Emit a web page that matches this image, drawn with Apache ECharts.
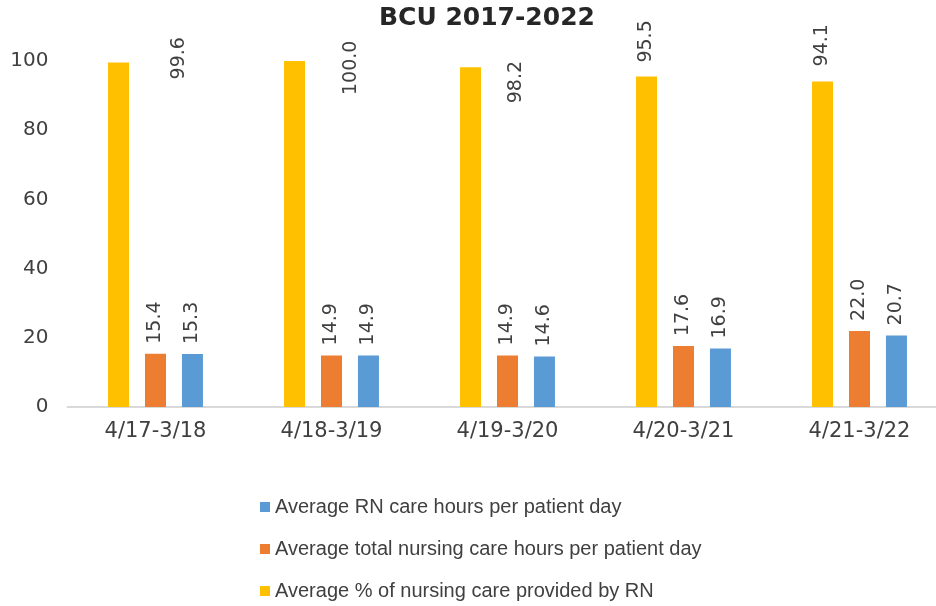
<!DOCTYPE html>
<html>
<head>
<meta charset="utf-8">
<script src="https://cdn.jsdelivr.net/npm/echarts@6/dist/echarts.min.js"></script>
<style>
  html, body { margin: 0; padding: 0; background: #fff; overflow: hidden; }
  /* plot area runs past the right edge in the original, so the canvas is a bit wider */
  #chart { width: 950px; height: 606px; }
</style>
</head>
<body>
<div id="chart"></div>
<script>
var categories = ['4/17-3/18', '4/18-3/19', '4/19-3/20', '4/20-3/21', '4/21-3/22'];
var pctByRN = [99.6, 100.0, 98.2, 95.5, 94.1];
var totalHours = [15.4, 14.9, 14.9, 17.6, 22.0];
var rnHours = [15.3, 14.9, 14.6, 16.9, 20.7];
var seriesNames = [
    'Average % of nursing care provided by RN',
    'Average total nursing care hours per patient day',
    'Average RN care hours per patient day'
];

var myChart = echarts.init(document.getElementById('chart'));

var labelStyle = {
    show: true,
    position: 'top',
    distance: 10,
    rotate: 90,
    align: 'left',
    verticalAlign: 'middle',
    color: '#404040',
    fontFamily: 'DejaVu Sans',
    fontSize: 19,
    formatter: function (p) { return p.value.toFixed(1); }
};

// excel pushed the first three % labels aside, so they get nudged
// (offset is in the rotated label's frame: [along text, across text])
var pctOffsets = [[-27, 61], [-44, 57], [-46, 46], [4, 0], [5, 0]];
var pctData = pctByRN.map(function (v, i) {
    return { value: v, label: { offset: pctOffsets[i] } };
});

myChart.setOption({
    backgroundColor: '#ffffff',
    animation: false,
    title: {
        text: 'BCU 2017-2022',
        left: 374,
        top: 1,
        textStyle: {
            fontFamily: 'DejaVu Sans',
            fontWeight: 'bold',
            fontSize: 25,
            color: '#262626'
        }
    },
    legend: {
        orient: 'vertical',
        left: 260,
        top: 497,
        padding: 0,
        itemWidth: 10,
        itemHeight: 10,
        itemGap: 22,
        icon: 'rect',
        textStyle: {
            fontFamily: 'Liberation Sans',
            fontSize: 20,
            color: '#404040'
        },
        data: [seriesNames[2], seriesNames[1], seriesNames[0]]
    },
    grid: {
        left: 67.5,
        top: 61,
        width: 880,
        bottom: 199
    },
    xAxis: {
        type: 'category',
        data: categories,
        axisTick: { show: false },
        axisLine: { lineStyle: { color: '#d9d9d9', width: 2 } },
        axisLabel: {
            margin: 14,
            fontFamily: 'DejaVu Sans',
            fontSize: 21,
            color: '#404040'
        }
    },
    yAxis: {
        type: 'value',
        min: 0,
        max: 100,
        interval: 20,
        splitLine: { show: false },
        axisLine: { show: false },
        axisTick: { show: false },
        axisLabel: {
            margin: 19,
            fontFamily: 'DejaVu Sans',
            fontSize: 20,
            color: '#404040'
        }
    },
    series: [
        {
            name: seriesNames[0],
            type: 'bar',
            barWidth: 21,
            barGap: '76%',
            color: '#FFC000',
            label: labelStyle,
            data: pctData
        },
        {
            name: seriesNames[1],
            type: 'bar',
            barWidth: 21,
            barGap: '76%',
            color: '#ED7D31',
            label: labelStyle,
            data: totalHours
        },
        {
            name: seriesNames[2],
            type: 'bar',
            barWidth: 21,
            barGap: '76%',
            color: '#5B9BD5',
            label: labelStyle,
            data: rnHours
        }
    ]
});
</script>
</body>
</html>
